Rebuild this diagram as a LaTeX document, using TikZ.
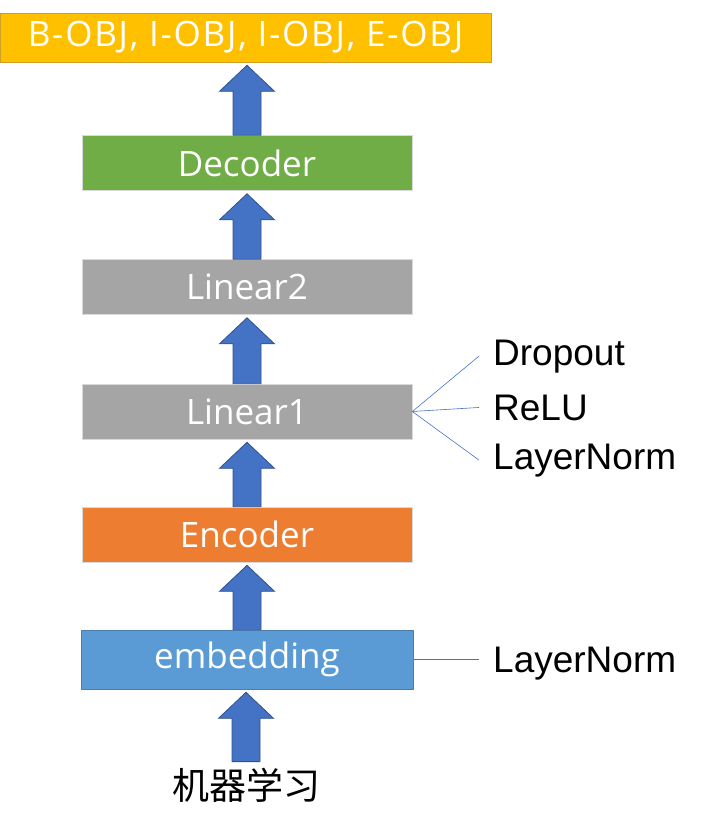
\documentclass[tikz,border=0pt]{standalone}
\usepackage{fontspec}
\setmainfont{Liberation Sans}
\newfontfamily\boxfont{Open Sans}
\newfontfamily\tagfont[LetterSpace=5]{Open Sans}
\newfontfamily\cjk{Noto Sans CJK SC}
\usetikzlibrary{calc}

\definecolor{gold}{HTML}{FFC000}
\definecolor{goldedge}{HTML}{C9A227}
\definecolor{dgreen}{HTML}{70AD47}
\definecolor{lgray}{HTML}{A5A5A5}
\definecolor{orng}{HTML}{ED7D31}
\definecolor{sky}{HTML}{5B9BD5}
\definecolor{skyedge}{HTML}{4A7EB0}
\definecolor{arrowblue}{HTML}{4472C4}
\definecolor{arrowedge}{HTML}{2F528F}

\tikzset{
  layer/.style={rectangle, minimum width=330pt, minimum height=55pt, inner sep=0pt,
    text=white, font=\boxfont\fontsize{35}{40}\selectfont, draw=white!85!black, line width=0.6pt},
  lbl/.style={inner sep=0pt, font=\fontsize{37}{42}\selectfont},
  branch/.style={draw=arrowblue, line width=0.6pt},
  blockarrow/.style={draw=arrowedge, fill=arrowblue, line width=0.8pt, line join=miter}
}

% block arrow from the top of #1 up to the bottom of #2
\newcommand{\blockup}[2]{%
  \draw[blockarrow] let \p1=(#1.north), \p2=(#2.south) in
    (\x1-14pt,\y1) -- (\x1-14pt,\y2-29pt) -- (\x1-27.5pt,\y2-29pt) -- (\x1,\y2-3pt)
    -- (\x1+27.5pt,\y2-29pt) -- (\x1+14pt,\y2-29pt) -- (\x1+14pt,\y1) -- cycle;}

\begin{document}
\begin{tikzpicture}[x=1pt, y=-1pt]
  \useasboundingbox (0,0) rectangle (704,831);

  \node[layer, fill=gold, draw=goldedge, minimum width=491pt, minimum height=49pt,
    font=\tagfont\fontsize{35}{40}\selectfont] (out) at (245.5,37.5) {B-OBJ, I-OBJ, I-OBJ, E-OBJ};
  \node[layer, fill=dgreen] (dec) at (247,163) {Decoder};
  \node[layer, fill=lgray] (lin2) at (247,287) {Linear2};
  \node[layer, fill=lgray] (lin1) at (247,411.5) {Linear1};
  \node[layer, fill=orng] (enc) at (247,534.5) {Encoder};
  \node[layer, fill=sky, draw=skyedge, minimum width=332pt, minimum height=59pt] (emb) at (247,659.5) {embedding};
  \node[inner sep=6pt, font=\cjk\fontsize{37}{42}\selectfont] (src) at (246,785) {机器学习};

  \blockup{src}{emb}
  \blockup{emb}{enc}
  \blockup{enc}{lin1}
  \blockup{lin1}{lin2}
  \blockup{lin2}{dec}
  \blockup{dec}{out}

  \node[lbl, anchor=base west] (drop) at (493,365) {Dropout};
  \node[lbl, anchor=base west] (relu) at (493,420) {ReLU};
  \node[lbl, anchor=base west] (norm1) at (493,469) {LayerNorm};
  \node[lbl, anchor=base west] (norm2) at (493,672) {LayerNorm};

  \draw[branch] (lin1.east) -- ([xshift=-14pt]drop.west);
  \draw[branch] (lin1.east) -- ([xshift=-14pt]relu.west);
  \draw[branch] (lin1.east) -- ([xshift=-14pt]norm1.west);
  \draw[branch] (emb.east) -- ([xshift=-14pt]emb.east -| norm2.west);
\end{tikzpicture}
\end{document}
